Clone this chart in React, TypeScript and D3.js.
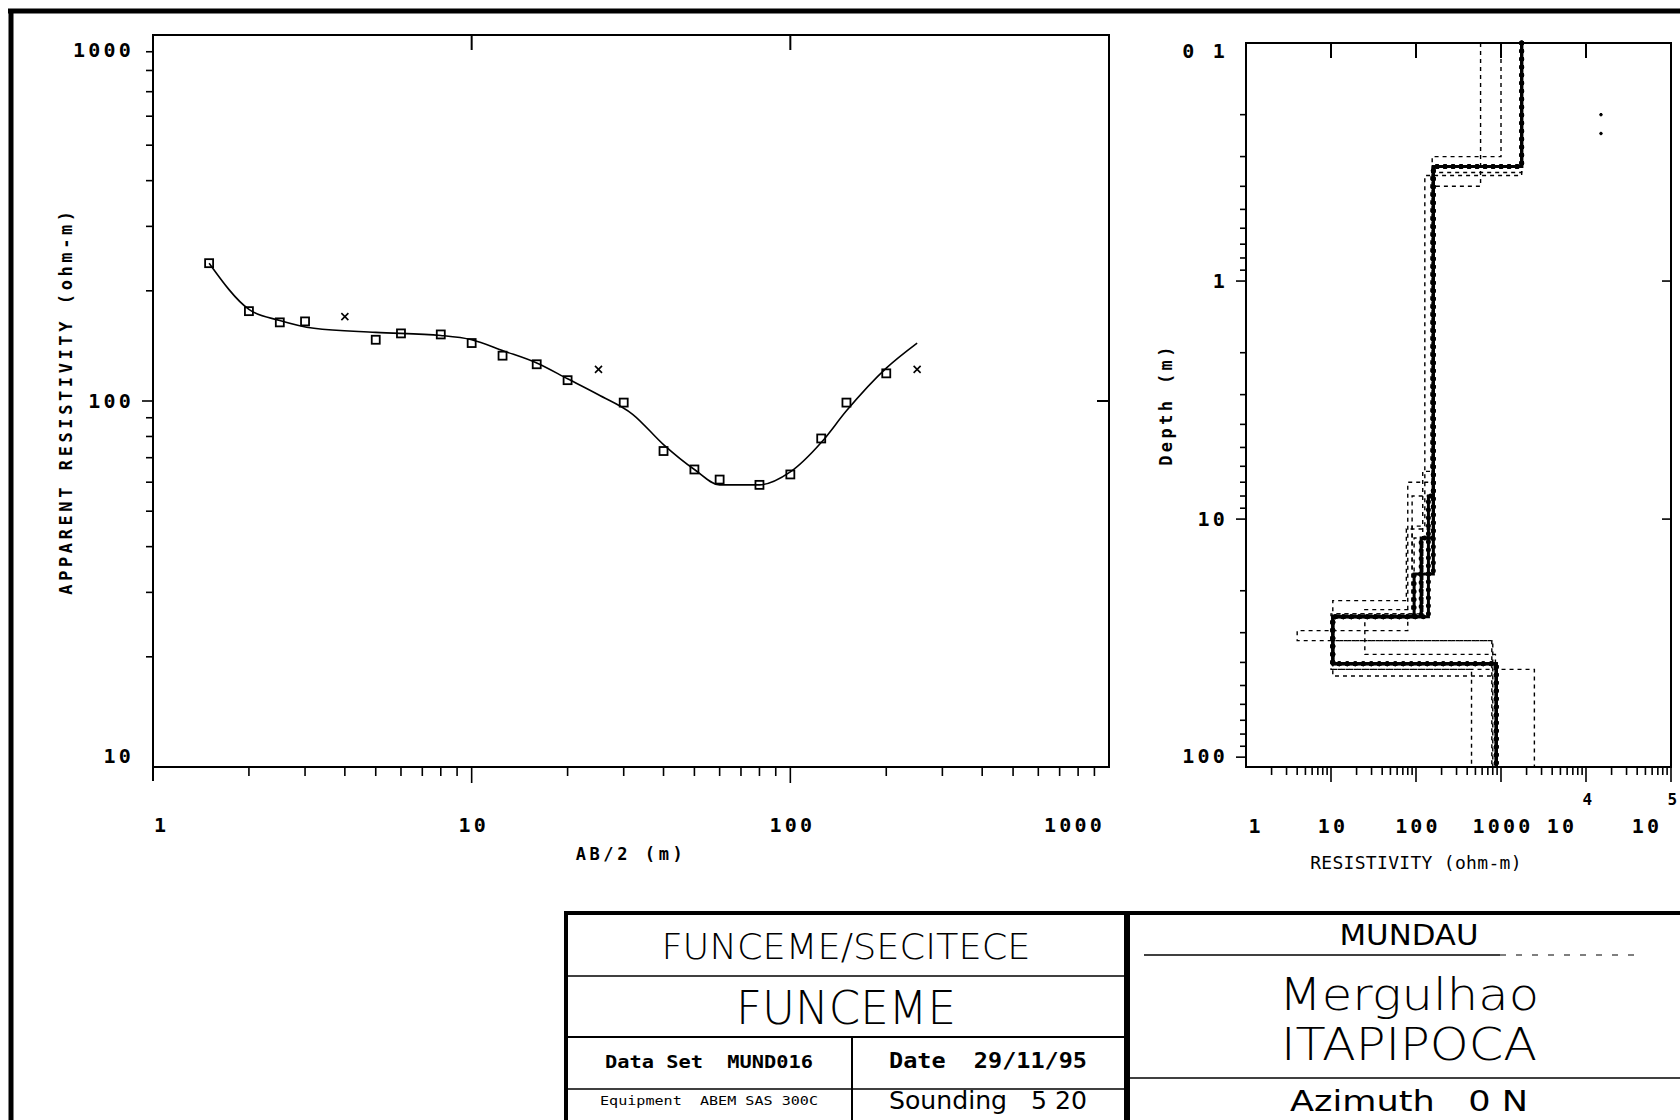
import React from "react";
import * as d3 from "d3";

// field sounding: AB/2 (m) and apparent resistivity (ohm-m)
const abHalf = [1.5, 2, 2.5, 3, 5, 6, 8, 10, 12.5, 16, 20, 30, 40, 50, 60, 80, 100, 125, 150, 200];
const rhoApparent = [238, 176, 164, 165, 147, 153, 152, 144, 133, 126, 114, 99, 73, 65, 61, 59, 63, 79, 99, 119];
// points marked as rejected (x)
const rejectedAb = [4, 25, 250];
const rejectedRho = [170, 122, 122];
// model response curve
const curveAb = [1.5, 2, 2.5, 3.2, 5, 8, 10, 12.6, 16, 20, 25, 32, 40, 50, 60, 80, 100, 125, 150, 200, 250];
const curveRho = [238, 178, 166, 158, 154, 151, 147, 137, 127, 115, 104, 92, 76, 65, 59, 59, 64, 77, 94, 123, 144];

// layered models: resistivity per layer, depth of each interface
const bestRho = [
  [1750, 160, 140, 10.5, 880],
  [1750, 160, 115, 10.5, 880],
  [1750, 160, 95, 10.5, 880],
];
const bestDepth = [
  [0.33, 8, 25.7, 40.5],
  [0.33, 12, 25.7, 40.5],
  [0.33, 17, 25.7, 40.5],
];
const equivRho = [
  [575, 163, 77, 10.5, 780],
  [1000, 155, 80, 4, 800],
  [1750, 150, 120, 10, 450],
  [1750, 127, 90, 10.5, 2470],
  [1750, 160, 90, 25, 860],
  [1750, 160, 95, 10.5, 900],
];
const equivDepth = [
  [0.4, 11, 22, 32.4],
  [0.3, 7, 29.4, 32.4],
  [0.35, 6.3, 25, 42.8],
  [0.36, 10.7, 25, 42.8],
  [0.33, 8, 24, 37],
  [0.33, 12, 26, 45.6],
];

const leftXLabels = [1, 10, 100, 1000];
const leftYLabels = [10, 100, 1000];
const rightXLabels = ["1", "10", "100", "1000", "10^4", "10^5"];
const rightYLabels = ["0 1", "1", "10", "100"];
const rightYValues = [0.1, 1, 10, 100];

const mono = "'DejaVu Sans Mono', monospace";
const sans = "'DejaVu Sans', sans-serif";
const sp = (s: string) => s.replace(/ /g, "\u00a0");

const xL = d3.scaleLog().domain([1, 1000]).range([153, 1109]);
const yL = d3.scaleLog().domain([10, 1000]).range([767, 35]);
const xR = d3.scaleLog().domain([1, 1e5]).range([1246, 1671]);
const yR = d3.scaleLog().domain([0.1, 110]).range([43, 767]);

const isMajor = (v: number) => Math.abs(Math.log10(v) - Math.round(Math.log10(v))) < 1e-6;

const stepPoints = (rho: number[], depth: number[]) => {
  const pts: [number, number][] = [[rho[0], 0.1]];
  depth.forEach((d, i) => {
    pts.push([rho[i], d]);
    pts.push([rho[i + 1], d]);
  });
  pts.push([rho[rho.length - 1], 110]);
  return pts;
};

const NumText = ({ x, y, anchor = "middle", children, size = 20 }: any) => (
  <text
    x={x}
    y={y}
    textAnchor={anchor}
    dominantBaseline="central"
    fontFamily={mono}
    fontWeight="bold"
    fontSize={size}
    letterSpacing={3.2}
  >
    {children}
  </text>
);

export default function App() {
  const fitLine = d3
    .line<number>()
    .x((_, i) => xL(curveAb[i]))
    .y((d) => yL(d))
    .curve(d3.curveMonotoneX);
  const modelLine = d3
    .line<[number, number]>()
    .x((d) => xR(d[0]))
    .y((d) => yR(d[1]));

  const lx0 = xL.range()[0], lx1 = xL.range()[1];
  const ly0 = yL.range()[1], ly1 = yL.range()[0];
  const rx0 = xR.range()[0], rx1 = xR.range()[1];
  const ry0 = yR.range()[0], ry1 = yR.range()[1];

  return (
    <svg width={1680} height={1120} style={{ position: "absolute", left: 0, top: 0, background: "white" }}>
      {/* outer frame */}
      <line x1={8} y1={11} x2={1680} y2={11} stroke="black" strokeWidth={5} />
      <line x1={11} y1={9} x2={11} y2={1120} stroke="black" strokeWidth={5} />

      {/* ---------- left: sounding curve ---------- */}
      <g stroke="black" fill="none">
        <rect x={lx0} y={ly0} width={lx1 - lx0} height={ly1 - ly0} strokeWidth={2} />
        <line x1={lx0} y1={ly1} x2={lx0} y2={ly1 + 14} strokeWidth={2} />
        {xL.ticks().filter((v) => v > 1 && v < 1000).map((v) => (
          <line key={"bx" + v} x1={xL(v)} x2={xL(v)} y1={ly1} y2={ly1 + (isMajor(v) ? 16 : 9)} strokeWidth={1.6} />
        ))}
        {[10, 100].map((v) => (
          <line key={"tx" + v} x1={xL(v)} x2={xL(v)} y1={ly0} y2={ly0 + 15} strokeWidth={2} />
        ))}
        <line x1={lx1} x2={lx1 - 12} y1={yL(100)} y2={yL(100)} strokeWidth={2} />
        {yL.ticks().filter((v) => v > 10 && v < 1000).map((v) => (
          <line key={"ly" + v} x1={lx0} x2={lx0 - (isMajor(v) ? 11 : 7)} y1={yL(v)} y2={yL(v)} strokeWidth={1.6} />
        ))}
        <path d={fitLine(curveRho) || ""} strokeWidth={1.6} />
        {abHalf.map((a, i) => (
          <rect key={"p" + i} x={xL(a) - 4} y={yL(rhoApparent[i]) - 4} width={8} height={8} strokeWidth={1.8} />
        ))}
        {rejectedAb.map((a, i) => (
          <g key={"r" + i} transform={`translate(${xL(a)},${yL(rejectedRho[i])})`} strokeWidth={1.6}>
            <line x1={-3.5} y1={-3.5} x2={3.5} y2={3.5} />
            <line x1={-3.5} y1={3.5} x2={3.5} y2={-3.5} />
          </g>
        ))}
      </g>
      {leftXLabels.map((v, i) => (
        <NumText
          key={"lxl" + v}
          x={i === 0 ? xL(v) + 1 : i === leftXLabels.length - 1 ? xL(v) - 4 : xL(v) + 2}
          y={825}
          anchor={i === 0 ? "start" : i === leftXLabels.length - 1 ? "end" : "middle"}
        >
          {v}
        </NumText>
      ))}
      {leftYLabels.map((v) => (
        <NumText key={"lyl" + v} x={134} y={Math.min(Math.max(yL(v), ly0 + 15), ly1 - 11)} anchor="end">
          {v}
        </NumText>
      ))}
      <text
        transform={`translate(66,${(ly0 + ly1) / 2}) rotate(-90)`}
        textAnchor="middle"
        dominantBaseline="central"
        fontFamily={mono}
        fontWeight="bold"
        fontSize={17}
        letterSpacing={3.6}
      >
        APPARENT RESISTIVITY (ohm-m)
      </text>
      <text x={631} y={854} textAnchor="middle" dominantBaseline="central" fontFamily={mono} fontWeight="bold" fontSize={17} letterSpacing={3.6}>
        AB/2 (m)
      </text>

      {/* ---------- right: layered model ---------- */}
      <g stroke="black" fill="none">
        <rect x={rx0} y={ry0} width={rx1 - rx0} height={ry1 - ry0} strokeWidth={2} />
        {xR.ticks().filter((v) => v > 1).map((v) => (
          <line key={"rbx" + v} x1={xR(v)} x2={xR(v)} y1={ry1} y2={ry1 + (isMajor(v) ? 15 : 8)} strokeWidth={1.6} />
        ))}
        {[10, 100, 1000, 1e4].map((v) => (
          <line key={"rtx" + v} x1={xR(v)} x2={xR(v)} y1={ry0} y2={ry0 + 15} strokeWidth={2} />
        ))}
        {yR.ticks().filter((v) => v > 0.1 && v <= 100).map((v) => (
          <line key={"rly" + v} x1={rx0} x2={rx0 - (isMajor(v) ? 10 : 6)} y1={yR(v)} y2={yR(v)} strokeWidth={1.6} />
        ))}
        {[1, 10].map((v) => (
          <line key={"rry" + v} x1={rx1} x2={rx1 - 9} y1={yR(v)} y2={yR(v)} strokeWidth={1.6} />
        ))}
        {equivRho.map((r, i) => (
          <path key={"eq" + i} d={modelLine(stepPoints(r, equivDepth[i])) || ""} strokeWidth={1.4} strokeDasharray="4 4" />
        ))}
        {bestRho.map((r, i) => (
          <g key={"bm" + i}>
            <path d={modelLine(stepPoints(r, bestDepth[i])) || ""} strokeWidth={3} />
            <path d={modelLine(stepPoints(r, bestDepth[i])) || ""} strokeWidth={5} strokeDasharray="0 8" strokeLinecap="round" />
          </g>
        ))}
        <circle cx={xR(15000)} cy={yR(0.2)} r={1.3} fill="black" />
        <circle cx={xR(15000)} cy={yR(0.24)} r={1.3} fill="black" />
      </g>
      {rightXLabels.map((s, i) => {
        const tx = xR(Math.pow(10, i));
        if (s.includes("^")) {
          const [b, e] = s.split("^");
          return (
            <g key={"rxl" + s}>
              <NumText x={tx - 24} y={826}>{b}</NumText>
              <NumText x={tx + 3} y={799} size={16}>{e}</NumText>
            </g>
          );
        }
        return (
          <NumText key={"rxl" + s} x={i === 0 ? tx + 10 : tx + 2} y={826}>
            {s}
          </NumText>
        );
      })}
      {rightYLabels.map((s, i) => (
        <NumText key={"ryl" + s} x={1228} y={Math.min(Math.max(yR(rightYValues[i]), ry0 + 8), ry1 - 11)} anchor="end">
          {sp(s)}
        </NumText>
      ))}
      <text
        transform={`translate(1166,${yR(3.3)}) rotate(-90)`}
        textAnchor="middle"
        dominantBaseline="central"
        fontFamily={mono}
        fontWeight="bold"
        fontSize={17}
        letterSpacing={3.4}
      >
        Depth (m)
      </text>
      <text x={1416} y={862} textAnchor="middle" dominantBaseline="central" fontFamily={mono} fontSize={18} letterSpacing={0.3}>
        RESISTIVITY (ohm-m)
      </text>

      {/* ---------- title block ---------- */}
      <g stroke="black">
        <line x1={564} y1={913} x2={1680} y2={913} strokeWidth={4} />
        <line x1={566} y1={911} x2={566} y2={1120} strokeWidth={4} />
        <line x1={1127} y1={911} x2={1127} y2={1120} strokeWidth={6} />
        <line x1={566} y1={976} x2={1127} y2={976} strokeWidth={1.5} />
        <line x1={566} y1={1037} x2={1127} y2={1037} strokeWidth={2} />
        <line x1={852} y1={1037} x2={852} y2={1120} strokeWidth={2} />
        <line x1={566} y1={1089} x2={1127} y2={1089} strokeWidth={1.5} />
        <line x1={1144} y1={955} x2={1500} y2={955} strokeWidth={1.5} />
        <line x1={1500} y1={955} x2={1634} y2={955} strokeWidth={1.2} strokeDasharray="6 10" />
        <line x1={1127} y1={1078} x2={1680} y2={1078} strokeWidth={1.5} />
      </g>
      <g fontFamily={sans} textAnchor="middle" dominantBaseline="central">
        <text x={846} y={947} fontSize={35} fontWeight={300} textLength={369} lengthAdjust="spacingAndGlyphs">FUNCEME/SECITECE</text>
        <text x={846} y={1008} fontSize={46} fontWeight={300} textLength={220} lengthAdjust="spacingAndGlyphs">FUNCEME</text>
        <text x={1409} y={935} fontSize={29} textLength={139} lengthAdjust="spacingAndGlyphs">MUNDAU</text>
        <text x={1409} y={994} fontSize={44} fontWeight={300} textLength={260} lengthAdjust="spacingAndGlyphs">Mergulhao</text>
        <text x={1409} y={1044} fontSize={44} fontWeight={300} textLength={256} lengthAdjust="spacingAndGlyphs">ITAPIPOCA</text>
        <text x={988} y={1101} fontSize={24} textLength={198} lengthAdjust="spacingAndGlyphs">{sp("Sounding   5 20")}</text>
        <text x={1409} y={1101} fontSize={28} textLength={238} lengthAdjust="spacingAndGlyphs">{sp("Azimuth   0 N")}</text>
      </g>
      <g fontFamily={mono} textAnchor="middle" dominantBaseline="central">
        <text x={709} y={1061} fontSize={18} fontWeight="bold" textLength={208} lengthAdjust="spacingAndGlyphs">{sp("Data Set  MUND016")}</text>
        <text x={988} y={1061} fontSize={21} fontWeight="bold" textLength={198} lengthAdjust="spacingAndGlyphs">{sp("Date  29/11/95")}</text>
        <text x={709} y={1101} fontSize={12} textLength={218} lengthAdjust="spacingAndGlyphs">{sp("Equipment  ABEM SAS 300C")}</text>
      </g>
    </svg>
  );
}
